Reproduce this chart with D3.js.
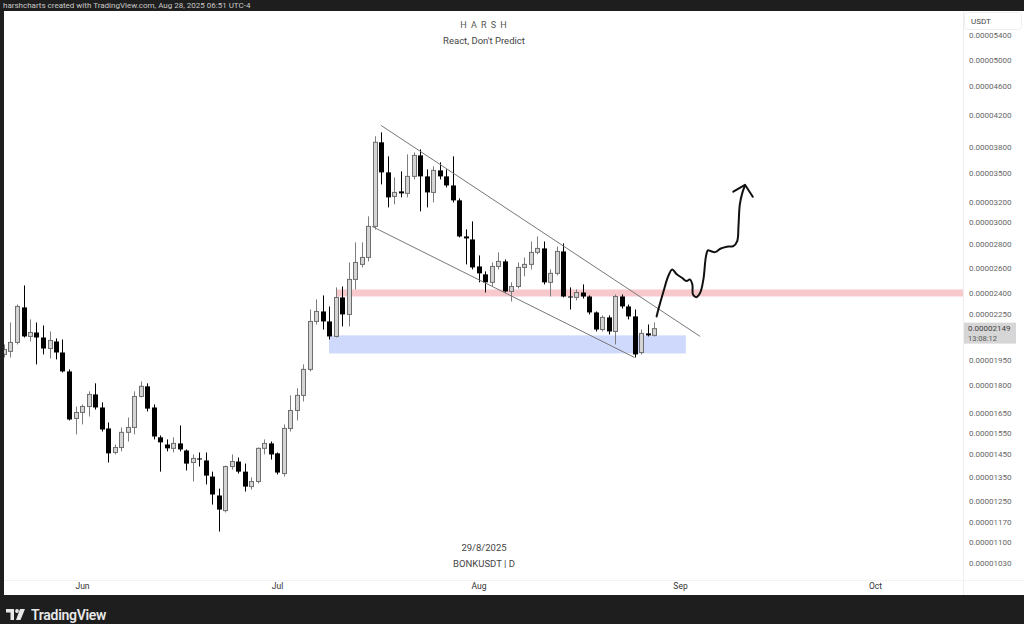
<!DOCTYPE html>
<html><head><meta charset="utf-8">
<script src="https://cdn.jsdelivr.net/npm/d3@7"></script>
<style>
html,body{margin:0;padding:0;background:#1e1e1e;}
svg{display:block;font-family:Roboto,"Liberation Sans",Arial,sans-serif;}
</style>
</head><body>
<svg id="chart" width="1024" height="624"></svg>
<script>
// ---- DATA (prices in units of 1e-8 USDT) ----
const PRICE_UNIT = 1e-8;
const firstCandleDate = "2025-05-20";
const open = [
 1982,2001,2058,2297,2097,2123,2090,2019,2064,1994,
 1879,1621,1652,1683,1748,1678,1571,1457,1480,1552,
 1576,1737,1793,1678,1528,1494,1476,1499,1466,1412,
 1430,1421,1351,1273,1214,1394,1416,1372,1309,1330,
 1476,1499,1453,1364,1571,1662,1743,1891,2198,2268,
 2198,2097,2370,2247,2508,2629,2687,2962,3856,3509,
 3254,3306,3285,3465,3701,3465,3295,3531,3465,3368,
 3214,2870,2843,2612,2548,2485,2612,2654,2415,2453,
 2604,2629,2730,2764,2485,2556,2738,2377,2370,2407,
 2377,2261,2143,2226,2130,2377,2304,2233,1994,2117,
 2104];
const high = [
 2045,2191,2318,2461,2212,2191,2170,2130,2084,2077,
 1891,1683,1694,1765,1810,1705,1601,1494,1576,1626,
 1765,1821,1810,1694,1537,1518,1528,1586,1471,1448,
 1457,1457,1372,1301,1399,1448,1434,1407,1347,1480,
 1518,1508,1457,1591,1743,1782,1921,2282,2355,2385,
 2304,2446,2453,2645,2817,2817,3057,3930,3979,3690,
 3454,3520,3713,3736,3771,3542,3576,3621,3542,3690,
 3234,2934,3009,2704,2572,2645,2730,2670,2485,2645,
 2687,2825,2870,2825,2588,2781,2808,2446,2430,2469,
 2385,2268,2240,2240,2392,2392,2318,2282,2143,2177,
 2191];
const low = [
 1963,1963,2045,2090,2064,1921,1982,1957,1951,1873,
 1611,1542,1591,1631,1667,1556,1412,1448,1462,1508,
 1542,1732,1657,1518,1372,1462,1457,1462,1377,1330,
 1394,1318,1237,1137,1207,1381,1364,1289,1297,1322,
 1448,1425,1360,1351,1556,1611,1710,1879,2177,2143,
 2077,2090,2164,2164,2430,2604,2654,2934,3379,3144,
 3174,3244,3244,3432,3105,3144,3194,3432,3347,3194,
 2861,2629,2588,2485,2407,2453,2588,2407,2340,2438,
 2532,2588,2713,2469,2377,2540,2370,2282,2348,2362,
 2247,2130,2130,2110,2045,2289,2212,1963,1982,2097,
 2097];
const close = [
 2013,2058,2304,2097,2123,2090,2019,2071,1994,1879,
 1616,1652,1683,1748,1678,1566,1453,1480,1552,1576,
 1737,1793,1672,1532,1504,1476,1499,1471,1407,1430,
 1425,1355,1277,1218,1394,1416,1372,1309,1330,1476,
 1499,1448,1368,1571,1662,1743,1891,2198,2268,2198,
 2097,2370,2247,2508,2645,2687,2962,3856,3509,3244,
 3295,3285,3465,3701,3465,3295,3531,3465,3368,3214,
 2870,2852,2604,2556,2485,2612,2654,2415,2453,2604,
 2629,2730,2764,2485,2556,2738,2377,2370,2407,2377,
 2261,2143,2226,2130,2377,2304,2233,1982,2117,2104,
 2149];

const priceTicks = [5400,5000,4600,4200,3800,3500,3200,3000,2800,2600,2400,2250,1950,1800,1650,1550,1450,1350,1250,1170,1100,1030];
const monthTicks = ["2025-06-01","2025-07-01","2025-08-01","2025-09-01","2025-10-01"];
const monthLabels = ["Jun","Jul","Aug","Sep","Oct"];
const lastPrice = 2149;
const countdown = "13:08:12";

// drawings: x in days since 2025-06-01, y in price units
const drawBase = "2025-06-01";
const channelUpper = [[46.0, 4066],[95.1, 2097]];
const channelLower = [[44.6, 2962],[85.0, 1963]];
const resistanceBand = {from: 39.2, top: 2430, bottom: 2377};
const supportBox = {from: 38.0, to: 92.9, top: 2104, bottom: 1988};
const handPath = [[88.4,2233],[88.7,2287],[89.4,2405],[90.2,2535],[90.8,2588],[91.5,2548],[92.3,2521],[93.0,2495],[93.5,2508],[93.9,2469],[94.0,2392],[94.5,2372],[95.1,2405],[95.6,2508],[96.0,2698],[96.3,2747],[96.7,2741],[97.4,2732],[98.2,2761],[99.2,2779],[100.2,2784],[100.8,2829],[101.0,2969],[101.2,3171],[101.6,3293],[102.0,3365]];
const arrowHead = [[100.2,3303],[102.0,3375],[103.2,3251]];

const headerText = "harshcharts created with TradingView.com, Aug 28, 2025 06:51 UTC-4";
const titleText = "H A R S H";
const subtitleText = "React, Don't Predict";
const dateText = "29/8/2025";
const symbolText = "BONKUSDT | D";
const currencyText = "USDT";

// ---- LAYOUT ----
const W = 1024, H = 624;
const plot = {left: 4, top: 11, right: 963, bottom: 580};
const DAY = 86400000;
const baseMs = Date.parse(drawBase);
const dayToDate = d => new Date(baseMs + d * DAY);

const svg = d3.select("#chart");
const x = d3.scaleUtc().domain([new Date(Date.parse("2025-06-01")), new Date(Date.parse("2025-10-01"))]).range([82, 875]);
const y = d3.scaleLog().domain([1030, 5400]).range([563, 35]);

// frame
svg.append("rect").attr("width", W).attr("height", H).attr("fill", "#1e1e1e");
svg.append("rect").attr("x", 4).attr("y", 11).attr("width", W - 4).attr("height", 584).attr("fill", "#ffffff");
svg.append("text").attr("x", 3).attr("y", 8).attr("fill", "#c8c8c8").attr("font-size", 8).text(headerText);

// separators
svg.append("line").attr("x1", plot.right + 0.5).attr("x2", plot.right + 0.5).attr("y1", 11).attr("y2", 595).attr("stroke", "#eeeeee");
svg.append("line").attr("x1", 4).attr("x2", W).attr("y1", plot.bottom + 0.5).attr("y2", plot.bottom + 0.5).attr("stroke", "#f2f2f2");

svg.append("defs").append("clipPath").attr("id", "clip").append("rect")
  .attr("x", plot.left).attr("y", plot.top).attr("width", plot.right - plot.left).attr("height", plot.bottom - plot.top);
const g = svg.append("g").attr("clip-path", "url(#clip)");

// watermark texts
g.append("text").attr("x", 484).attr("y", 28).attr("text-anchor", "middle").attr("fill", "#555").attr("font-size", 9).attr("letter-spacing", 1).text(titleText);
g.append("text").attr("x", 484).attr("y", 44).attr("text-anchor", "middle").attr("fill", "#444").attr("font-size", 9.5).text(subtitleText);
g.append("text").attr("x", 484).attr("y", 551).attr("text-anchor", "middle").attr("fill", "#444").attr("font-size", 9.5).text(dateText);
g.append("text").attr("x", 484).attr("y", 567).attr("text-anchor", "middle").attr("fill", "#444").attr("font-size", 9.5).text(symbolText);

// zones
g.append("rect")
  .attr("x", x(dayToDate(resistanceBand.from))).attr("y", y(resistanceBand.top))
  .attr("width", plot.right - x(dayToDate(resistanceBand.from)))
  .attr("height", y(resistanceBand.bottom) - y(resistanceBand.top))
  .attr("fill", "#f7c9cc");
g.append("rect")
  .attr("x", x(dayToDate(supportBox.from))).attr("y", y(supportBox.top))
  .attr("width", x(dayToDate(supportBox.to)) - x(dayToDate(supportBox.from)))
  .attr("height", y(supportBox.bottom) - y(supportBox.top))
  .attr("fill", "#cfd9fb");

// candles
const startMs = Date.parse(firstCandleDate);
const candles = open.map((o, i) => ({date: new Date(startMs + i * DAY), o, h: high[i], l: low[i], c: close[i]}));
const cg = g.append("g");
candles.forEach(d => {
  const cx = Math.round(x(d.date)) + 0.5;
  const up = d.c >= d.o;
  const wickColor = up ? "#7d7d7d" : "#000";
  cg.append("line").attr("x1", cx).attr("x2", cx).attr("y1", y(d.h)).attr("y2", y(d.l)).attr("stroke", wickColor).attr("stroke-width", 1);
  const top = y(Math.max(d.o, d.c)), bot = y(Math.min(d.o, d.c));
  const hgt = Math.max(1, bot - top);
  if (up) {
    cg.append("rect").attr("x", cx - 2).attr("y", top).attr("width", 4).attr("height", hgt)
      .attr("fill", "#d4d4d4").attr("stroke", "#6e6e6e").attr("stroke-width", 1);
  } else {
    cg.append("rect").attr("x", cx - 2.5).attr("y", top).attr("width", 5).attr("height", hgt).attr("fill", "#000");
  }
});

// channel lines
[channelUpper, channelLower].forEach(seg => {
  g.append("line")
    .attr("x1", x(dayToDate(seg[0][0]))).attr("y1", y(seg[0][1]))
    .attr("x2", x(dayToDate(seg[1][0]))).attr("y2", y(seg[1][1]))
    .attr("stroke", "#787878").attr("stroke-width", 1);
});

// hand-drawn projection
const lineGen = d3.line().x(p => x(dayToDate(p[0]))).y(p => y(p[1])).curve(d3.curveCatmullRom.alpha(0.5));
g.append("path").attr("d", lineGen(handPath)).attr("fill", "none").attr("stroke", "#111").attr("stroke-width", 2).attr("stroke-linejoin", "round").attr("stroke-linecap", "round");
g.append("path").attr("d", d3.line().x(p => x(dayToDate(p[0]))).y(p => y(p[1]))(arrowHead)).attr("fill", "none").attr("stroke", "#111").attr("stroke-width", 2).attr("stroke-linejoin", "round").attr("stroke-linecap", "round");

// y axis
const yAxis = svg.append("g").attr("transform", `translate(${plot.right},0)`)
  .call(d3.axisRight(y).tickValues(priceTicks).tickSize(0).tickPadding(6).tickFormat(v => (v * PRICE_UNIT).toFixed(8)));
yAxis.select(".domain").remove();
yAxis.selectAll("text").attr("fill", "#666").attr("font-size", 8).attr("font-family", 'Roboto,"Liberation Sans",Arial,sans-serif');

// currency label
svg.append("rect").attr("x", 964.5).attr("y", 12.5).attr("width", 57).attr("height", 17).attr("rx", 3).attr("fill", "#fff").attr("stroke", "#f0f0f0");
svg.append("text").attr("x", 971).attr("y", 24).attr("fill", "#444").attr("font-size", 8).text(currencyText);

// last price label
const ly = y(lastPrice);
svg.append("rect").attr("x", 964).attr("y", ly - 6).attr("width", 52).attr("height", 21).attr("fill", "#d6d6d6");
svg.append("text").attr("x", 968).attr("y", ly).attr("dy", "0.35em").attr("fill", "#444").attr("font-size", 8).text((lastPrice * PRICE_UNIT).toFixed(8));
svg.append("text").attr("x", 968).attr("y", ly + 10).attr("dy", "0.35em").attr("fill", "#555").attr("font-size", 7.5).text(countdown);

// x axis
const xAxis = svg.append("g").attr("transform", `translate(0,${plot.bottom})`)
  .call(d3.axisBottom(x).tickValues(monthTicks.map(s => new Date(Date.parse(s)))).tickSize(0).tickPadding(3).tickFormat((d, i) => monthLabels[i]));
xAxis.select(".domain").remove();
xAxis.selectAll("text").attr("fill", "#333").attr("font-size", 8.5).attr("font-family", 'Roboto,"Liberation Sans",Arial,sans-serif');

// bottom brand bar
const logo = svg.append("g").attr("transform", "translate(6,609)").attr("fill", "#e8e8e8");
logo.append("path").attr("d", "M0,0 H8 V11 H4.5 V3.5 H0 Z");
logo.append("circle").attr("cx", 11).attr("cy", 2).attr("r", 1.9);
logo.append("path").attr("d", "M14,0 H19 L14.5,11 H10 Z");
svg.append("text").attr("x", 31).attr("y", 620).attr("fill", "#e8e8e8").attr("font-size", 14).attr("font-weight", 600).attr("letter-spacing", -0.3).text("TradingView");
</script>
</body></html>
